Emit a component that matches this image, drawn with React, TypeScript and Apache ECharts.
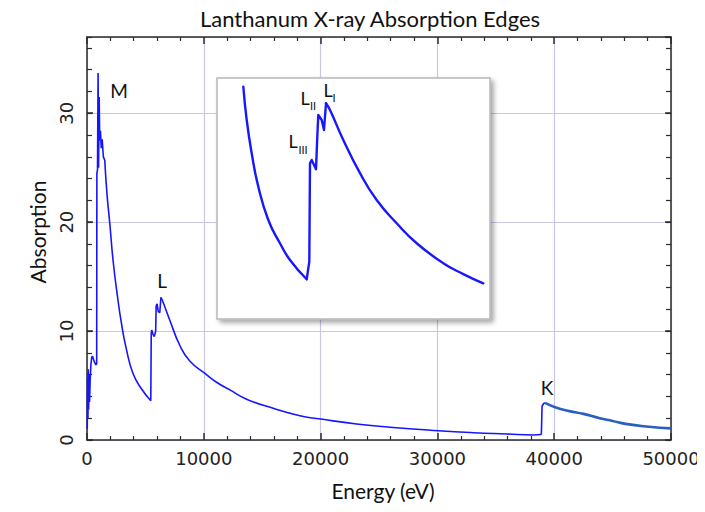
import React, { useEffect, useRef } from "react";
import * as echarts from "echarts";

// Lanthanum absorption spectrum: M edges, L edges and K edge (eV, absorption)
const energy = [
  20, 50, 80, 110, 140, 180, 220, 270, 330, 400, 470, 560, 660, 760, 830, 845,
  900, 950, 990, 1040, 1090, 1150, 1220, 1300, 1400, 1520, 1710, 1950, 2230,
  2570, 2950, 3380, 3940, 4660, 5460, 5500, 5540, 5650, 5760, 5880, 5920, 6000,
  6100, 6230, 6330, 6460, 7090, 7940, 8800, 10090, 11090, 12230, 13660,
  15940, 18230, 20170, 23080, 25940, 30080, 33080, 35940, 38220, 38900, 38960,
  39100, 39220,
];
const absorption = [
  1.0, 5.8, 2.0, 6.5, 2.8, 6.0, 3.5, 5.5, 6.8, 7.6, 7.7, 7.4, 7.1, 6.9, 7.0,
  24.5, 24.8, 33.7, 25.0, 31.5, 27.5, 28.4, 26.8, 27.6, 26.0, 25.7, 22.6, 19.9,
  16.5, 13.5, 10.7, 8.3, 6.1, 4.7, 3.6, 9.8, 10.1, 9.7, 9.5, 10.0, 12.3, 12.5,
  11.8, 11.7, 13.1, 12.8, 11.0, 8.7, 7.25, 6.12, 5.3, 4.6, 3.75, 2.91,
  2.23, 1.9, 1.47, 1.17, 0.85, 0.67, 0.55, 0.46, 0.5, 3.1, 3.35, 3.4,
];
// Smooth decays between the edges, [from, to] in eV
const mainDecays = [
  [1520, 5460],
  [6330, 38900],
];

// Tail above the K edge
const kTailEnergy = [39220, 40080, 41300, 42500, 43900, 45000, 46100, 48100, 50000];
const kTailAbsorption = [3.4, 3.0, 2.65, 2.4, 2.0, 1.75, 1.48, 1.22, 1.07];

// Magnified view of the L edges
const insetEnergy = [
  2930, 3067, 3268, 3534, 3937, 4408, 4811, 5484, 5589, 5617, 5685, 5859, 5911,
  5951, 6088, 6181, 6262, 6423, 6959, 7632, 8304, 9110, 9916, 10988, 11794, 12600,
];
const insetAbsorption = [
  15.5, 13.56, 11.63, 9.69, 7.75, 6.4, 5.43, 4.31, 5.33, 11.05, 11.24, 10.7,
  12.59, 13.85, 13.56, 12.98, 14.53, 14.14, 12.4, 10.47, 8.91, 7.56, 6.4, 5.24,
  4.61, 4.07,
];
const insetDecays = [
  [2930, 5484],
  [6262, 12600],
];

const pairs = (xs: number[], ys: number[]) => xs.map((x, i) => [x, ys[i]]);

// Split a curve into straight pieces (edges) and smoothed pieces (decays)
const pieces = (xs: number[], ys: number[], decays: number[][]) => {
  const out: { data: number[][]; smooth: boolean }[] = [];
  const inDecay = (a: number, b: number) => decays.some(([lo, hi]) => a >= lo && b <= hi);
  for (let i = 0; i < xs.length - 1; i++) {
    const smooth = inDecay(xs[i], xs[i + 1]);
    const last = out[out.length - 1];
    if (last && last.smooth === smooth) {
      last.data.push([xs[i + 1], ys[i + 1]]);
    } else {
      out.push({ data: [[xs[i], ys[i]], [xs[i + 1], ys[i + 1]]], smooth });
    }
  }
  return out;
};

const AXIS_COLOR = "#2b2b2b";
const GRID_COLOR = "#c9c6e8";
const LABEL_FONT = "DejaVu Sans";
const TEXT_FONT = "Lato";

const text = (
  content: string,
  x: number,
  y: number,
  size: number,
  extra: Record<string, unknown> = {}
) => ({
  type: "text",
  x,
  y,
  z: 20,
  ...extra,
  style: {
    text: content,
    fontSize: size,
    fontFamily: TEXT_FONT,
    fill: "#111",
    align: "center",
    verticalAlign: "middle",
    textAlign: "center",
    textVerticalAlign: "middle",
  },
});

export default function App() {
  const ref = useRef<HTMLDivElement>(null);

  useEffect(() => {
    if (!ref.current) return;
    const chart = echarts.init(ref.current, undefined, { renderer: "svg" });

    const mainGrid = { left: 87, right: 34, top: 37, bottom: 72 };

    const mainSeries = pieces(energy, absorption, mainDecays).map((p) => ({
      type: "line",
      xAxisIndex: 0,
      yAxisIndex: 0,
      data: p.data,
      showSymbol: false,
      smooth: p.smooth ? 0.5 : false,
      z: 2,
      lineStyle: { color: "#1515ff", width: 1.6 },
    }));
    const insetSeries = pieces(insetEnergy, insetAbsorption, insetDecays).map((p) => ({
      type: "line",
      xAxisIndex: 2,
      yAxisIndex: 2,
      data: p.data,
      showSymbol: false,
      smooth: p.smooth ? 0.5 : false,
      z: 3,
      lineStyle: { color: "#1818ff", width: 2.4, cap: "round", join: "round" },
    }));

    chart.setOption({
      animation: false,
      backgroundColor: "#ffffff",
      grid: [
        { ...mainGrid, z: 0 },
        {
          left: 217,
          top: 78,
          right: 215,
          bottom: 193,
          show: true,
          z: 1,
          backgroundColor: "#ffffff",
          borderColor: "#b8b8b8",
          borderWidth: 1.5,
          shadowColor: "rgba(0,0,0,0.35)",
          shadowBlur: 5,
          shadowOffsetX: 3,
          shadowOffsetY: 3,
        },
        { ...mainGrid, z: 0 },
      ],
      xAxis: [
        {
          type: "value",
          gridIndex: 0,
          position: "bottom",
          min: 0,
          max: 50000,
          interval: 10000,
          axisLine: { show: true, onZero: false, lineStyle: { color: AXIS_COLOR, width: 1.5 } },
          axisTick: { show: true, inside: true, length: 7, lineStyle: { color: AXIS_COLOR, width: 1.5 } },
          minorTick: { show: true, splitNumber: 5, length: 4, lineStyle: { color: AXIS_COLOR, width: 1.2 } },
          splitLine: { show: true, lineStyle: { color: GRID_COLOR, width: 1.2 } },
          axisLabel: {
            fontSize: 18,
            fontFamily: LABEL_FONT,
            color: "#222",
            margin: 9,
            formatter: (v: number) => String(v),
          },
        },
        {
          type: "value",
          gridIndex: 0,
          position: "top",
          min: 0,
          max: 50000,
          interval: 10000,
          axisLine: { show: true, onZero: false, lineStyle: { color: AXIS_COLOR, width: 1.5 } },
          axisTick: { show: true, inside: true, length: 7, lineStyle: { color: AXIS_COLOR, width: 1.5 } },
          minorTick: { show: true, splitNumber: 5, length: 4, lineStyle: { color: AXIS_COLOR, width: 1.2 } },
          splitLine: { show: false },
          axisLabel: { show: false },
        },
        { type: "value", gridIndex: 1, min: 1870, max: 12870, show: false },
        { type: "value", gridIndex: 2, min: 0, max: 50000, show: false },
      ],
      yAxis: [
        {
          type: "value",
          gridIndex: 0,
          position: "left",
          min: 0,
          max: 37,
          interval: 10,
          axisLine: { show: true, onZero: false, lineStyle: { color: AXIS_COLOR, width: 1.5 } },
          axisTick: { show: true, inside: true, length: 6, lineStyle: { color: AXIS_COLOR, width: 1.5 } },
          splitLine: { show: true, lineStyle: { color: GRID_COLOR, width: 1.2 } },
          axisLabel: {
            fontSize: 18,
            fontFamily: LABEL_FONT,
            color: "#222",
            rotate: 90,
            margin: 12,
            showMaxLabel: false,
          },
        },
        {
          type: "value",
          gridIndex: 0,
          position: "right",
          min: 0,
          max: 37,
          interval: 10,
          axisLine: { show: true, onZero: false, lineStyle: { color: AXIS_COLOR, width: 1.5 } },
          axisTick: { show: true, inside: true, length: 6, lineStyle: { color: AXIS_COLOR, width: 1.5 } },
          splitLine: { show: false },
          axisLabel: { show: false },
        },
        { type: "value", gridIndex: 1, min: 2, max: 16, show: false },
        {
          type: "value",
          gridIndex: 2,
          position: "left",
          min: 0,
          max: 37,
          interval: 2,
          axisLine: { show: false },
          axisTick: { show: true, inside: true, length: 5, lineStyle: { color: AXIS_COLOR, width: 1.2 } },
          splitLine: { show: false },
          axisLabel: { show: false },
        },
        {
          type: "value",
          gridIndex: 2,
          position: "right",
          min: 0,
          max: 37,
          interval: 2,
          axisLine: { show: false },
          axisTick: { show: true, inside: true, length: 5, lineStyle: { color: AXIS_COLOR, width: 1.2 } },
          splitLine: { show: false },
          axisLabel: { show: false },
        },
      ],
      series: [
        ...mainSeries,
        {
          type: "line",
          xAxisIndex: 0,
          yAxisIndex: 0,
          data: pairs(kTailEnergy, kTailAbsorption),
          showSymbol: false,
          smooth: true,
          z: 2,
          lineStyle: { color: "#2a5fc0", width: 2.6 },
        },
        ...insetSeries,
      ],
      graphic: [
        text("Lanthanum X-ray Absorption Edges", 370, 18, 22),
        text("Energy (eV)", 383, 490, 21),
        text("Absorption", 37, 232, 21, { rotation: Math.PI / 2 }),
        text("M", 119, 90, 19),
        text("L", 162, 280, 19),
        text("K", 547, 387, 19),
        text("L", 293, 141, 18),
        text("III", 303, 149, 11),
        text("L", 305, 98, 18),
        text("II", 313, 105, 11),
        text("L", 328, 90, 18),
        text("I", 334, 97, 11),
      ],
    });

    return () => chart.dispose();
  }, []);

  return <div ref={ref} style={{ width: 705, height: 512, margin: -8 }} />;
}
